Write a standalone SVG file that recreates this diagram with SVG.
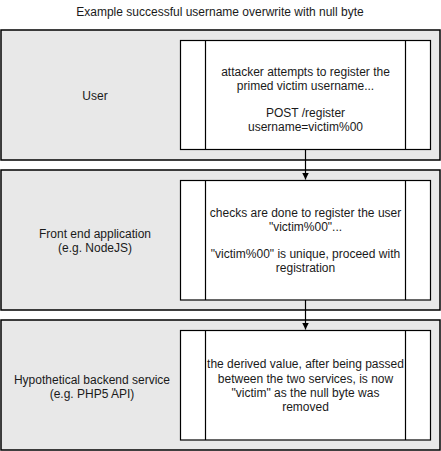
<svg xmlns="http://www.w3.org/2000/svg" width="441" height="451" viewBox="0 0 441 451">
<style>
.lane{fill:#e8e8e8;stroke:#000;stroke-width:1.5}
.proc{fill:#fff;stroke:#000;stroke-width:1.2}
.side{stroke:#000;stroke-width:1.2;fill:none}
text{font-family:"Liberation Sans",Arial,sans-serif;font-size:12px;fill:#1a1a1a;text-anchor:middle}
.conn{stroke:#000;stroke-width:1.2;fill:none}
</style>
<defs>
<marker id="ah" markerWidth="8" markerHeight="8" refX="7" refY="4" orient="auto" markerUnits="userSpaceOnUse">
<path d="M0,0.5 L7,4 L0,7.5 Z" fill="#000"/>
</marker>
</defs>
<text x="220" y="16">Example successful username overwrite with null byte</text>
<g id="user">
<rect class="lane" x="1" y="30" width="439" height="130"/>
<text x="95" y="100">User</text>
<g id="user-proc">
<rect class="proc" x="180.5" y="40.5" width="250" height="109"/>
<path class="side" d="M205.5,40.5V149.5M405.5,40.5V149.5"/>
<text x="305.5" y="76">attacker attempts to register the</text>
<text x="305.5" y="90">primed victim username...</text>
<text x="305.5" y="117">POST /register</text>
<text x="305.5" y="131">username=victim%00</text>
</g>
</g>
<g id="frontend">
<rect class="lane" x="1" y="170" width="439" height="140"/>
<text x="95" y="237.5">Front end application</text>
<text x="95" y="251.5">(e.g. NodeJS)</text>
<g id="frontend-proc">
<rect class="proc" x="180.5" y="180.5" width="250" height="119.5"/>
<path class="side" d="M205.5,180.5V300M405.5,180.5V300"/>
<text x="305.5" y="217">checks are done to register the user</text>
<text x="305.5" y="231">"victim%00"...</text>
<text x="305.5" y="258">"victim%00" is unique, proceed with</text>
<text x="305.5" y="272">registration</text>
</g>
</g>
<g id="backend">
<rect class="lane" x="1" y="320" width="439" height="130"/>
<text x="92" y="384">Hypothetical backend service</text>
<text x="92" y="398">(e.g. PHP5 API)</text>
<g id="backend-proc">
<rect class="proc" x="180.5" y="330.5" width="250" height="109.5"/>
<path class="side" d="M205.5,330.5V440M405.5,330.5V440"/>
<text x="305.5" y="368">the derived value, after being passed</text>
<text x="305.5" y="382.5">between the two services, is now</text>
<text x="305.5" y="396.5">"victim" as the null byte was</text>
<text x="305.5" y="411">removed</text>
</g>
</g>
<g id="connectors">
<line class="conn" x1="305.5" y1="150" x2="305.5" y2="179.5" marker-end="url(#ah)"/>
<line class="conn" x1="305.5" y1="300" x2="305.5" y2="329.5" marker-end="url(#ah)"/>
</g>
</svg>
